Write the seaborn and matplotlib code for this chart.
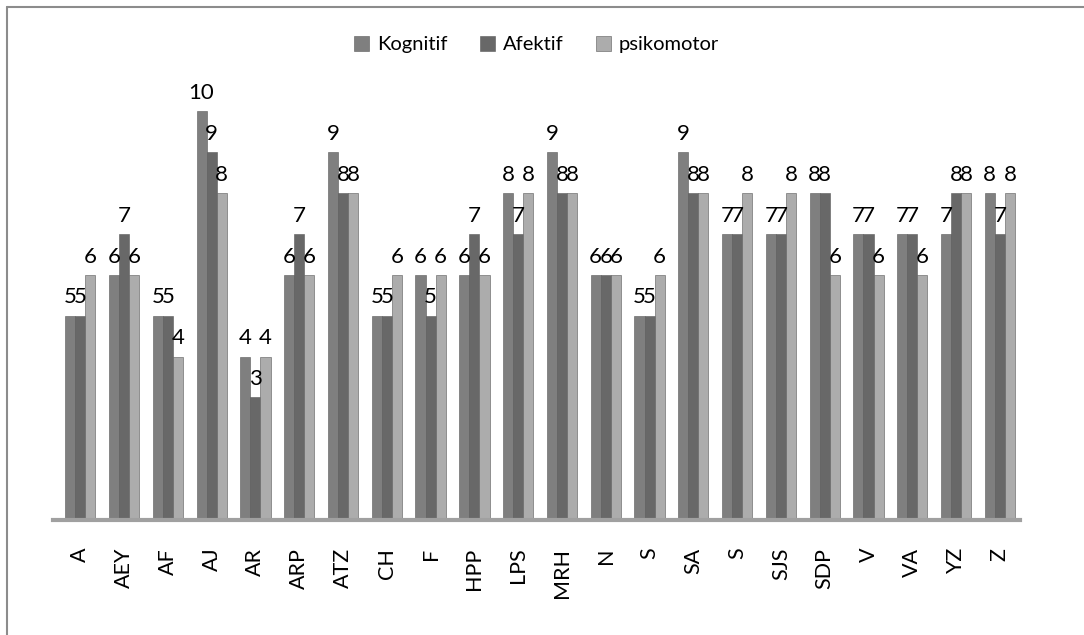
import pandas as pd
import matplotlib.pyplot as plt
import seaborn as sns
from matplotlib.lines import Line2D

# Nilai per siswa
students = ['A', 'AEY', 'AF', 'AJ', 'AR', 'ARP', 'ATZ', 'CH', 'F', 'HPP', 'LPS',
            'MRH', 'N', 'S', 'SA', 'S', 'SJS', 'SDP', 'V', 'VA', 'YZ', 'Z']
kognitif = [5, 6, 5, 10, 4, 6, 9, 5, 6, 6, 8, 9, 6, 5, 9, 7, 7, 8, 7, 7, 7, 8]
afektif = [5, 7, 5, 9, 3, 7, 8, 5, 5, 7, 7, 8, 6, 5, 8, 7, 7, 8, 7, 7, 8, 7]
psikomotor = [6, 6, 4, 8, 4, 6, 8, 6, 6, 6, 8, 8, 6, 6, 8, 8, 8, 6, 6, 6, 8, 8]
series = ['Kognitif', 'Afektif', 'psikomotor']
colors = ['#7f7f7f', '#686868', '#acacac']

# duplicate names (two "S") -> use position as x key
rows = []
for i, name in enumerate(students):
    for s, vals in zip(series, [kognitif, afektif, psikomotor]):
        rows.append({'pos': i, 'Seri': s, 'Nilai': vals[i]})
df = pd.DataFrame(rows)

sns.set_style('white')
plt.rcParams['font.family'] = ['Lato', 'DejaVu Sans']

fig = plt.figure(figsize=(10.84, 6.35), dpi=100)
ax = fig.add_axes([0.049, 0.181, 0.892, 0.695])

sns.barplot(data=df, x='pos', y='Nilai', hue='Seri', hue_order=series,
            palette=colors, width=0.69, gap=0, ax=ax, saturation=1,
            edgecolor='#5a5a5a', linewidth=0.4)

for c in ax.containers:
    ax.bar_label(c, fontsize=16, padding=6, color='black')

ax.set_xlim(-0.62, 21.46)
ax.set_ylim(0, 10.8)
ax.set_xticks(range(len(students)))
ax.set_xticklabels(students, rotation=90, fontsize=15.5, color='black')
ax.tick_params(axis='x', length=0, pad=20)
ax.set_xlabel('')
ax.set_ylabel('')
ax.set_yticks([])
for sp in ['top', 'left', 'right']:
    ax.spines[sp].set_visible(False)
ax.spines['bottom'].set_color('#a0a0a0')
ax.spines['bottom'].set_linewidth(3)

leg = ax.legend(loc='center', bbox_to_anchor=(0.5, 1.077), ncol=3, frameon=False,
                fontsize=14.5, handlelength=0.75, handleheight=0.75,
                handletextpad=0.4, columnspacing=1.6)
for t in leg.get_texts():
    t.set_color('black')

# chart border (only top and left visible in the original)
fig.add_artist(Line2D([0.0065, 1.0], [0.989, 0.989], color='#8c8c8c', lw=1.5))
fig.add_artist(Line2D([0.0065, 0.0065], [0.0, 0.989], color='#8c8c8c', lw=1.5))

plt.savefig('out.png', dpi=100)
